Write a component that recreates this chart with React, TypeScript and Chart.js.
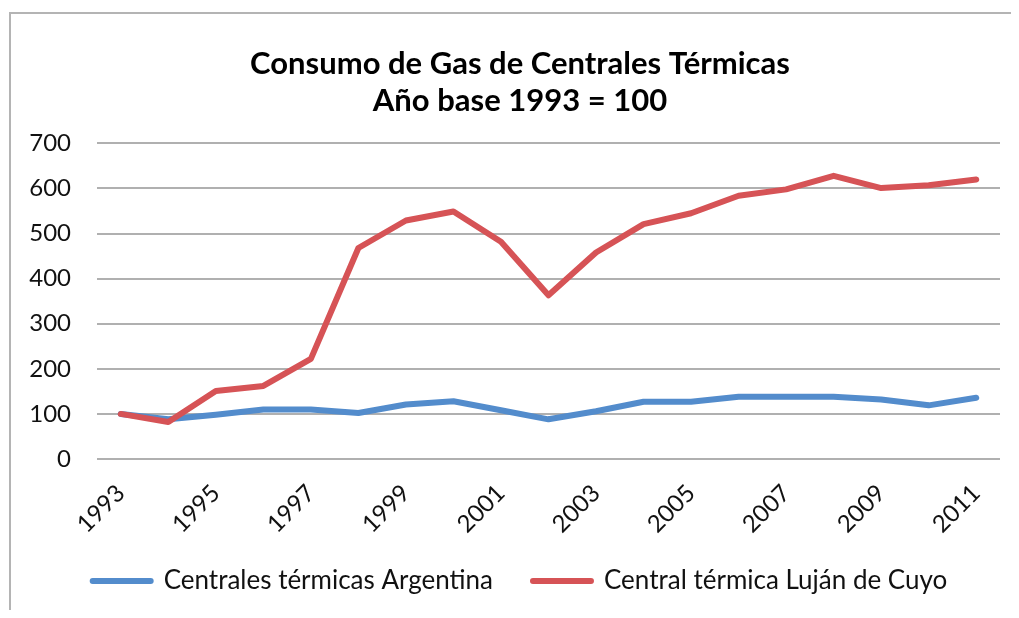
import React, { useEffect, useRef } from "react";
import { Chart, registerables } from "chart.js";

Chart.register(...registerables);

const years = [
  "1993", "1994", "1995", "1996", "1997", "1998", "1999", "2000", "2001", "2002",
  "2003", "2004", "2005", "2006", "2007", "2008", "2009", "2010", "2011",
];
const argentina = [100, 88, 98, 110, 110, 102, 121, 128, 108, 88, 106, 127, 127, 138, 138, 138, 132, 119, 136];
const lujan = [100, 82, 151, 162, 222, 468, 529, 549, 482, 363, 458, 521, 545, 584, 598, 628, 601, 607, 620];
const titleLines = ["Consumo de Gas de Centrales Térmicas", "Año base 1993 = 100"];
const yMin = 0;
const yMax = 700;
const yStep = 100;

const FONT = "Lato, 'Open Sans', sans-serif";

// widen the label clip boxes so the rotated x labels and the y labels are not cut
const unclipLabels = {
  id: "unclipLabels",
  afterLayout(chart: any) {
    const x = chart.scales.x;
    if (x) x.bottom = x.bottom + 60;
    const y = chart.scales.y;
    if (y) y.left = 0;
  },
};

export default function App() {
  const ref = useRef<HTMLCanvasElement>(null);
  useEffect(() => {
    if (!ref.current) return;
    const chart = new Chart(ref.current, {
      type: "line",
      data: {
        labels: years,
        datasets: [
          {
            label: "Centrales térmicas Argentina",
            data: argentina,
            borderColor: "#538ccc",
            backgroundColor: "#538ccc",
            borderWidth: 6,
            pointRadius: 0,
            tension: 0,
            order: 1,
            borderCapStyle: "round",
            borderJoinStyle: "round",
          },
          {
            label: "Central térmica Luján de Cuyo",
            data: lujan,
            borderColor: "#d65356",
            backgroundColor: "#d65356",
            borderWidth: 6,
            pointRadius: 0,
            tension: 0,
            order: 0,
            borderCapStyle: "round",
            borderJoinStyle: "round",
          },
        ],
      },
      plugins: [unclipLabels],
      options: {
        responsive: false,
        animation: false,
        layout: { padding: { left: 40, right: 19, top: 0, bottom: 14 } },
        plugins: {
          title: {
            display: true,
            text: titleLines,
            font: { family: FONT, size: 31, weight: "bold", lineHeight: 1.2 },
            color: "#000",
            padding: { top: 45, bottom: 24 },
          },
          legend: {
            position: "bottom",
            labels: {
              boxWidth: 58,
              boxHeight: 0,
              font: { family: FONT, size: 26 },
              color: "#111",
              padding: 40,
              sort: (a: any, b: any) => a.datasetIndex - b.datasetIndex,
            },
          },
          tooltip: { enabled: false },
        },
        scales: {
          x: {
            offset: true,
            grid: { display: false },
            border: { display: false },
            ticks: {
              autoSkip: false,
              maxRotation: 45,
              minRotation: 45,
              padding: 12,
              font: { family: FONT, size: 24 },
              color: "#111",
              callback: (_v: any, i: number) => (i % 2 === 0 ? years[i] : ""),
            },
            afterFit: (s: any) => {
              s.height = 69;
            },
          },
          y: {
            min: yMin,
            max: yMax,
            ticks: {
              stepSize: yStep,
              padding: 26,
              font: { family: FONT, size: 24 },
              color: "#111",
            },
            grid: { color: "#b0b0b0", lineWidth: 2, drawTicks: false },
            border: { display: false },
            afterFit: (s: any) => {
              s.width = 57;
            },
          },
        },
      },
    });
    return () => chart.destroy();
  }, []);

  return (
    <div style={{ position: "relative", margin: -8, width: 1019, height: 618, overflow: "hidden", background: "#fff" }}>
      <div
        style={{
          position: "absolute",
          left: 9,
          top: 12,
          width: 2000,
          height: 2000,
          borderLeft: "2px solid #b4b4b4",
          borderTop: "2px solid #b4b4b4",
        }}
      />
      <canvas ref={ref} width={1019} height={618} style={{ position: "absolute", left: 0, top: 0 }} />
    </div>
  );
}
